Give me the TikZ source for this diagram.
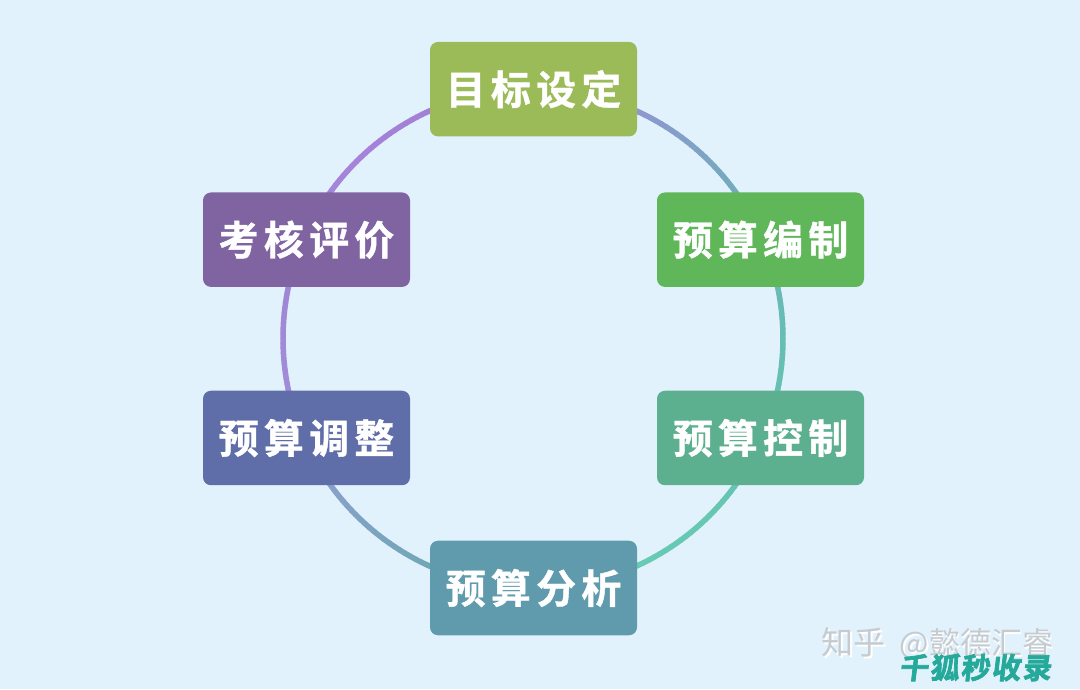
\documentclass[tikz,border=0pt]{standalone}
\usepackage{fontspec}
\setmainfont{Noto Sans CJK SC}
\newfontfamily\boxfont[LetterSpace=13,FakeBold=1.0]{Noto Sans CJK SC Bold}
\newfontfamily\wmfont{Noto Sans CJK SC}
\newfontfamily\stampfont[FakeBold=2.5,FakeSlant=0.12,LetterSpace=6]{Noto Sans CJK SC Bold}
\usetikzlibrary{backgrounds,calc}
\definecolor{bgc}{HTML}{E2F2FD}
\definecolor{cA}{HTML}{9BBB59}
\definecolor{cB}{HTML}{60B75A}
\definecolor{cC}{HTML}{5CB08F}
\definecolor{cD}{HTML}{5F9BAC}
\definecolor{cE}{HTML}{5F6DA9}
\definecolor{cF}{HTML}{8064A2}
\definecolor{r1}{HTML}{8F97D0}
\definecolor{r2}{HTML}{6FAEB9}
\definecolor{r3}{HTML}{68BAB6}
\definecolor{r4}{HTML}{66C1B2}
\definecolor{r5}{HTML}{66C4B1}
\definecolor{r6}{HTML}{67CBB5}
\definecolor{r7}{HTML}{6FA8B6}
\definecolor{r8}{HTML}{8C9FCC}
\definecolor{r9}{HTML}{A18DD8}
\definecolor{r10}{HTML}{A086D6}
\definecolor{r11}{HTML}{A586DA}
\definecolor{r12}{HTML}{A47FD8}
\definecolor{wmgray}{HTML}{C6CBCF}
\definecolor{stamp}{HTML}{25A99A}
\tikzset{
  stagebox/.style={rounded corners=8pt,minimum width=207pt,minimum height=94.5pt,inner sep=0pt,
    text=white,font=\boxfont\fontsize{40}{42}\selectfont},
  ringpiece/.style={line width=5.5pt}
}
\newcommand{\lbl}[1]{\raisebox{-1.5pt}{#1}}
\newcommand{\wmtext}{{\fontsize{32}{34}\selectfont 知乎}\hspace{14pt}{\fontsize{31}{34}\selectfont @懿德汇睿}}
% gradient arc: start angle, end angle, start colour, end colour
\newcommand{\gradarc}[4]{%
  \foreach \k in {0,...,23}{%
    \pgfmathsetmacro{\aS}{#1+(#2-#1)*\k/24}%
    \pgfmathsetmacro{\aE}{#1+(#2-#1)*(\k+1.15)/24}%
    \pgfmathsetmacro{\mixv}{100-100*\k/23}%
    \draw[ringpiece,color=#3!\mixv!#4] ($(c)+(\aS:250)$) arc[start angle=\aS,end angle=\aE,radius=250pt];
  }%
}
\begin{document}
\begin{tikzpicture}[x=1pt,y=1pt]
\useasboundingbox (0,0) rectangle (1080,689);
\coordinate (c) at (533,350.5);
\node[stagebox,fill=cA] (goal) at (533.5,599.8) {\lbl{目标设定}};
\node[stagebox,fill=cB] (draft) at (760.5,449.3) {\lbl{预算编制}};
\node[stagebox,fill=cC] (ctrl) at (760.5,251) {\lbl{预算控制}};
\node[stagebox,fill=cD] (anal) at (533.5,101) {\lbl{预算分析}};
\node[stagebox,fill=cE] (adj) at (306.5,251) {\lbl{预算调整}};
\node[stagebox,fill=cF] (eval) at (306.5,449.3) {\lbl{考核评价}};
\begin{scope}[on background layer]
\fill[bgc] (0,0) rectangle (1080,689);
\gradarc{66.5}{32}{r1}{r2}
\gradarc{14}{-14}{r3}{r4}
\gradarc{-32}{-66.5}{r5}{r6}
\gradarc{-113.5}{-148}{r7}{r8}
\gradarc{-166}{-194}{r9}{r10}
\gradarc{-212}{-246.5}{r11}{r12}
\end{scope}
\node[font=\wmfont,text=white,anchor=west,inner sep=0pt] (wmshadow) at (823,43.5) {\wmtext};
\node[font=\wmfont,text=wmgray,anchor=west,inner sep=0pt] (wm) at (821.5,45) {\wmtext};
\node[font=\stampfont\fontsize{29}{32}\selectfont,text=stamp,anchor=west,inner sep=0pt] (stamp) at (899,21.5) {千狐秒收录};
\end{tikzpicture}
\end{document}
